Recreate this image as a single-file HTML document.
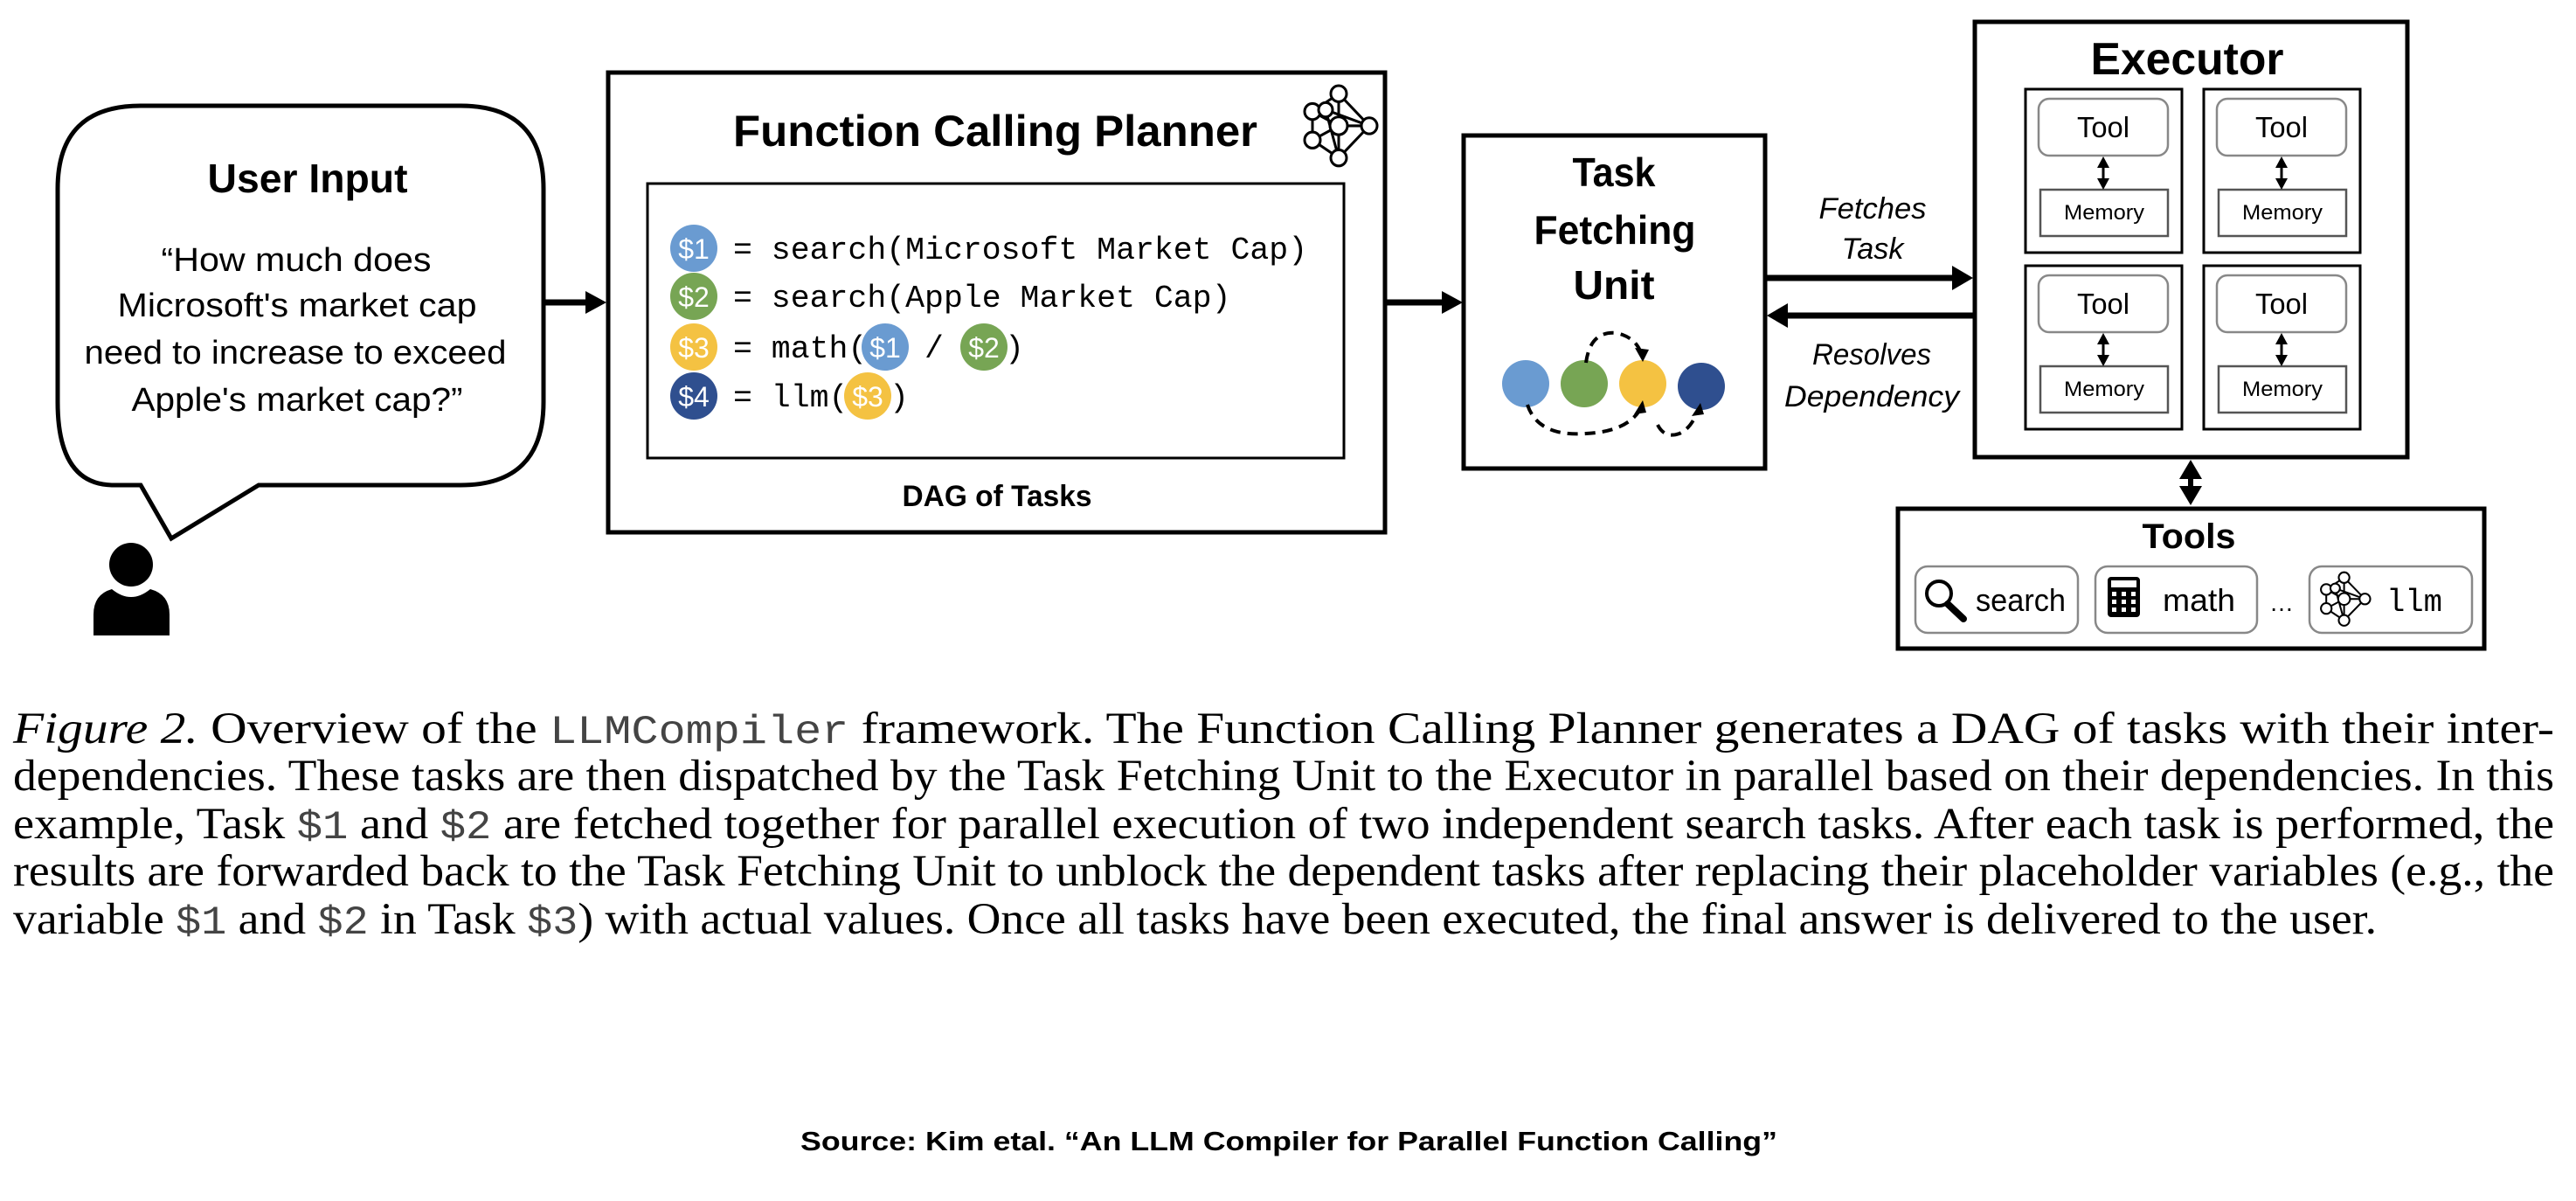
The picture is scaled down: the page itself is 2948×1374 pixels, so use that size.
<!DOCTYPE html>
<html><head><meta charset="utf-8"><style>
html,body{margin:0;padding:0;background:#fff;}
svg{display:block;}
.s{font-family:"Liberation Sans",sans-serif;}
.m{font-family:"Liberation Mono",monospace;}
.t{font-family:"Liberation Serif",serif;}
</style></head><body>
<svg width="2948" height="1374" viewBox="0 0 2948 1374" xmlns="http://www.w3.org/2000/svg">
<defs>
<g id="net" fill="#fff" stroke="#000" stroke-width="3">
  <line x1="45" y1="10" x2="15" y2="30"/><line x1="45" y1="10" x2="45" y2="46"/><line x1="45" y1="10" x2="80" y2="46"/>
  <line x1="15" y1="30" x2="45" y2="46"/><line x1="15" y1="30" x2="15" y2="62"/><line x1="15" y1="62" x2="45" y2="46"/>
  <line x1="15" y1="62" x2="45" y2="82"/><line x1="45" y1="46" x2="80" y2="46"/><line x1="45" y1="82" x2="80" y2="46"/>
  <line x1="45" y1="46" x2="45" y2="82"/><line x1="30" y1="28" x2="45" y2="82"/><line x1="30" y1="28" x2="80" y2="46"/>
  <circle cx="45" cy="10" r="9"/><circle cx="15" cy="30" r="9"/><circle cx="30" cy="28" r="8"/><circle cx="45" cy="46" r="10"/>
  <circle cx="80" cy="46" r="9"/><circle cx="15" cy="62" r="9"/><circle cx="45" cy="82" r="9"/>
</g>
</defs>

<!-- Speech bubble -->
<path d="M161,555 L130,555 Q66,555 66,460 L66,216 Q66,121 161,121 L527,121 Q622,121 622,216 L622,460 Q622,555 527,555 L296,555 L196,616 Z" fill="#fff" stroke="#000" stroke-width="5" stroke-linejoin="miter"/>
<text class="s" x="352" y="220" font-size="46" font-weight="bold" text-anchor="middle" textLength="229" lengthAdjust="spacingAndGlyphs">User Input</text>
<g class="s" font-size="38" text-anchor="middle">
<text x="339" y="310" textLength="309" lengthAdjust="spacingAndGlyphs">“How much does</text>
<text x="340" y="362" textLength="411" lengthAdjust="spacingAndGlyphs">Microsoft's market cap</text>
<text x="338" y="416" textLength="483" lengthAdjust="spacingAndGlyphs">need to increase to exceed</text>
<text x="340" y="470" textLength="379" lengthAdjust="spacingAndGlyphs">Apple's market cap?”</text>
</g>
<!-- person -->
<ellipse cx="150" cy="646" rx="25" ry="25" fill="#000"/>
<path d="M107,727 L107,703 Q107,680 128,674 Q150,692 172,674 Q194,680 194,703 L194,727 Z" fill="#000"/>

<!-- arrow bubble -> planner -->
<line x1="622" y1="346" x2="672" y2="346" stroke="#000" stroke-width="7"/>
<polygon points="670,333 694,346 670,359" fill="#000"/>

<!-- Planner -->
<rect x="696" y="83" width="889" height="526" fill="#fff" stroke="#000" stroke-width="5"/>
<text class="s" x="1139" y="167" font-size="50" font-weight="bold" text-anchor="middle" textLength="600" lengthAdjust="spacingAndGlyphs">Function Calling Planner</text>
<use href="#net" transform="translate(1487,97) scale(1.0,1.02)"/>
<rect x="741" y="210" width="797" height="314" fill="#fff" stroke="#000" stroke-width="3"/>
<g class="m" font-size="36.5" fill="#000">
<text x="839" y="296">= search(Microsoft Market Cap)</text>
<text x="839" y="351">= search(Apple Market Cap)</text>
<text x="839" y="409">= math(</text>
<text x="1058" y="409">/</text>
<text x="1150" y="409">)</text>
<text x="839" y="465">= llm(</text>
<text x="1018" y="465">)</text>
</g>
<g class="s" font-size="32" fill="#fff" text-anchor="middle">
<circle cx="794" cy="284" r="27" fill="#6a9bd1"/><text x="794" y="296">$1</text>
<circle cx="794" cy="339" r="27" fill="#77a554"/><text x="794" y="351">$2</text>
<circle cx="794" cy="397" r="27" fill="#f4c242"/><text x="794" y="409">$3</text>
<circle cx="794" cy="453" r="27" fill="#2f4f8f"/><text x="794" y="465">$4</text>
<circle cx="1013" cy="397" r="27" fill="#6a9bd1"/><text x="1013" y="409">$1</text>
<circle cx="1126" cy="397" r="27" fill="#77a554"/><text x="1126" y="409">$2</text>
<circle cx="993" cy="453" r="27" fill="#f4c242"/><text x="993" y="465">$3</text>
</g>
<text class="s" x="1141" y="579" font-size="34" font-weight="bold" text-anchor="middle" textLength="217" lengthAdjust="spacingAndGlyphs">DAG of Tasks</text>

<!-- arrow planner -> TFU -->
<line x1="1587" y1="346" x2="1652" y2="346" stroke="#000" stroke-width="7"/>
<polygon points="1650,333 1674,346 1650,359" fill="#000"/>

<!-- Task Fetching Unit -->
<rect x="1675" y="155" width="345" height="381" fill="#fff" stroke="#000" stroke-width="5"/>
<g class="s" font-size="46" font-weight="bold" text-anchor="middle">
<text x="1847" y="213" textLength="95" lengthAdjust="spacingAndGlyphs">Task</text>
<text x="1848" y="279" textLength="185" lengthAdjust="spacingAndGlyphs">Fetching</text>
<text x="1847" y="342" textLength="93" lengthAdjust="spacingAndGlyphs">Unit</text>
</g>
<circle cx="1746" cy="439" r="27" fill="#6a9bd1"/>
<circle cx="1813" cy="439" r="27" fill="#77a554"/>
<circle cx="1880" cy="439" r="27" fill="#f4c242"/>
<circle cx="1947" cy="442" r="27" fill="#2f4f8f"/>
<g fill="none" stroke="#000" stroke-width="4" stroke-dasharray="12,8">
<path d="M1815,415 Q1820,378 1850,381 Q1872,386 1878,404"/>
<path d="M1748,463 Q1760,500 1815,496 Q1860,494 1876,470"/>
<path d="M1897,486 Q1905,502 1922,496 Q1935,490 1942,472"/>
</g>
<polygon points="1871,398 1887,400 1880,414" fill="#000"/>
<polygon points="1870,474 1884,472 1880,458" fill="#000"/>
<polygon points="1936,476 1950,474 1946,461" fill="#000"/>

<!-- Fetches / Resolves arrows -->
<line x1="2021" y1="318" x2="2236" y2="318" stroke="#000" stroke-width="7"/>
<polygon points="2234,304 2258,318 2234,332" fill="#000"/>
<line x1="2042" y1="361" x2="2258" y2="361" stroke="#000" stroke-width="7"/>
<polygon points="2046,347 2022,361 2046,375" fill="#000"/>
<g class="s" font-size="34" font-style="italic" text-anchor="middle">
<text x="2143" y="250" textLength="123" lengthAdjust="spacingAndGlyphs">Fetches</text>
<text x="2143" y="296" textLength="71" lengthAdjust="spacingAndGlyphs">Task</text>
<text x="2142" y="417" textLength="136" lengthAdjust="spacingAndGlyphs">Resolves</text>
<text x="2142" y="465" textLength="200" lengthAdjust="spacingAndGlyphs">Dependency</text>
</g>

<!-- Executor -->
<rect x="2260" y="25" width="495" height="498" fill="#fff" stroke="#000" stroke-width="5"/>
<text class="s" x="2503" y="85" font-size="52" font-weight="bold" text-anchor="middle" textLength="221" lengthAdjust="spacingAndGlyphs">Executor</text>
<g id="sub">
<rect x="2318" y="102" width="179" height="187" fill="#fff" stroke="#000" stroke-width="3"/>
<rect x="2333" y="113" width="148" height="65" rx="12" fill="#fff" stroke="#888" stroke-width="2.5"/>
<rect x="2335" y="217" width="146" height="53" fill="#fff" stroke="#555" stroke-width="2.5"/>
<text class="s" x="2407" y="157" font-size="33" text-anchor="middle" textLength="60" lengthAdjust="spacingAndGlyphs">Tool</text>
<text class="s" x="2408" y="251" font-size="24" text-anchor="middle" textLength="92" lengthAdjust="spacingAndGlyphs">Memory</text>
<line x1="2407" y1="186" x2="2407" y2="209" stroke="#000" stroke-width="3"/>
<polygon points="2400,192 2407,179 2414,192" fill="#000"/>
<polygon points="2400,204 2407,217 2414,204" fill="#000"/>
</g>
<use href="#sub" transform="translate(204,0)"/>
<use href="#sub" transform="translate(0,202)"/>
<use href="#sub" transform="translate(204,202)"/>

<!-- Executor <-> Tools -->
<line x1="2507" y1="545" x2="2507" y2="560" stroke="#000" stroke-width="6"/>
<polygon points="2494,548 2507,526 2520,548" fill="#000"/>
<polygon points="2494,556 2507,578 2520,556" fill="#000"/>

<!-- Tools -->
<rect x="2172" y="582" width="671" height="160" fill="#fff" stroke="#000" stroke-width="5"/>
<text class="s" x="2505" y="627" font-size="40" font-weight="bold" text-anchor="middle" textLength="107" lengthAdjust="spacingAndGlyphs">Tools</text>
<rect x="2192" y="648" width="186" height="76" rx="14" fill="#fff" stroke="#888" stroke-width="2.5"/>
<rect x="2398" y="648" width="185" height="76" rx="14" fill="#fff" stroke="#888" stroke-width="2.5"/>
<rect x="2643" y="648" width="186" height="76" rx="14" fill="#fff" stroke="#888" stroke-width="2.5"/>
<!-- search icon -->
<circle cx="2219" cy="679" r="14" fill="none" stroke="#000" stroke-width="4"/>
<line x1="2229" y1="691" x2="2247" y2="708" stroke="#000" stroke-width="8" stroke-linecap="round"/>
<text class="s" x="2261" y="699" font-size="36" textLength="103" lengthAdjust="spacingAndGlyphs">search</text>
<!-- calculator -->
<rect x="2412" y="660" width="37" height="46" rx="4" fill="#000"/>
<rect x="2416" y="664" width="29" height="8" fill="#fff"/>
<g fill="#fff">
<rect x="2417" y="677" width="5" height="5"/><rect x="2428" y="677" width="5" height="5"/><rect x="2439" y="677" width="5" height="5"/>
<rect x="2417" y="686" width="5" height="5"/><rect x="2428" y="686" width="5" height="5"/><rect x="2439" y="686" width="5" height="5"/>
<rect x="2417" y="695" width="5" height="5"/><rect x="2428" y="695" width="5" height="5"/><rect x="2439" y="695" width="5" height="5"/>
</g>
<text class="s" x="2475" y="699" font-size="36" textLength="83" lengthAdjust="spacingAndGlyphs">math</text>
<text class="s" x="2611" y="699" font-size="28" text-anchor="middle">…</text>
<use href="#net" transform="translate(2652,654) scale(0.68,0.68)"/>
<text class="m" x="2731" y="699" font-size="36" textLength="64" lengthAdjust="spacingAndGlyphs">llm</text>

<!-- Caption -->
<g class="t" font-size="51" fill="#000">
<text x="15" y="850" textLength="2908" lengthAdjust="spacingAndGlyphs"><tspan font-style="italic">Figure 2.</tspan> Overview of the <tspan class="m" font-size="46" fill="#444">LLMCompiler</tspan> framework.  The Function Calling Planner generates a DAG of tasks with their inter-</text>
<text x="15" y="904" textLength="2908" lengthAdjust="spacingAndGlyphs">dependencies. These tasks are then dispatched by the Task Fetching Unit to the Executor in parallel based on their dependencies. In this</text>
<text x="15" y="959" textLength="2908" lengthAdjust="spacingAndGlyphs">example, Task <tspan class="m" font-size="46" fill="#444">$1</tspan> and <tspan class="m" font-size="46" fill="#444">$2</tspan> are fetched together for parallel execution of two independent search tasks. After each task is performed, the</text>
<text x="15" y="1013" textLength="2908" lengthAdjust="spacingAndGlyphs">results are forwarded back to the Task Fetching Unit to unblock the dependent tasks after replacing their placeholder variables (e.g., the</text>
<text x="15" y="1068" textLength="2705" lengthAdjust="spacingAndGlyphs">variable <tspan class="m" font-size="46" fill="#444">$1</tspan> and <tspan class="m" font-size="46" fill="#444">$2</tspan> in Task <tspan class="m" font-size="46" fill="#444">$3</tspan>) with actual values. Once all tasks have been executed, the final answer is delivered to the user.</text>
</g>
<text class="s" x="1475" y="1316" font-size="31" font-weight="bold" text-anchor="middle" textLength="1118" lengthAdjust="spacingAndGlyphs">Source: Kim etal. “An LLM Compiler for Parallel Function Calling”</text>
</svg>
</body></html>
